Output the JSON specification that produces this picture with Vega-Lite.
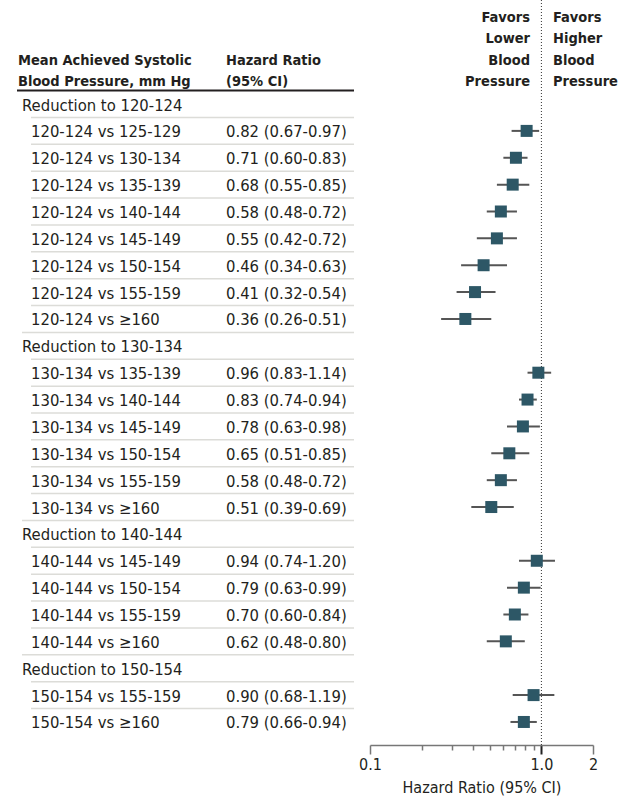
{
  "$schema": "https://vega.github.io/schema/vega-lite/v6.json",
  "width": 623,
  "height": 745,
  "autosize": "none",
  "padding": {"left": 0, "top": 0, "right": 0, "bottom": 58},
  "background": "white",
  "config": {
    "view": {"stroke": null},
    "font": "DejaVu Sans Condensed, sans-serif",
    "text": {"font": "DejaVu Sans Condensed, sans-serif", "fontSize": 16.5, "color": "#231f20", "baseline": "middle", "align": "left", "dy": 1.5},
    "axis": {"labelFont": "DejaVu Sans Condensed, sans-serif", "titleFont": "DejaVu Sans Condensed, sans-serif"}
  },
  "datasets": {
    "rows": [
      {"i": 0, "kind": "group", "label": "Reduction to 120-124"},
      {"i": 1, "kind": "item", "label": "120-124 vs 125-129", "hr": 0.82, "lo": 0.67, "hi": 0.97, "ci": "0.82 (0.67-0.97)"},
      {"i": 2, "kind": "item", "label": "120-124 vs 130-134", "hr": 0.71, "lo": 0.60, "hi": 0.83, "ci": "0.71 (0.60-0.83)"},
      {"i": 3, "kind": "item", "label": "120-124 vs 135-139", "hr": 0.68, "lo": 0.55, "hi": 0.85, "ci": "0.68 (0.55-0.85)"},
      {"i": 4, "kind": "item", "label": "120-124 vs 140-144", "hr": 0.58, "lo": 0.48, "hi": 0.72, "ci": "0.58 (0.48-0.72)"},
      {"i": 5, "kind": "item", "label": "120-124 vs 145-149", "hr": 0.55, "lo": 0.42, "hi": 0.72, "ci": "0.55 (0.42-0.72)"},
      {"i": 6, "kind": "item", "label": "120-124 vs 150-154", "hr": 0.46, "lo": 0.34, "hi": 0.63, "ci": "0.46 (0.34-0.63)"},
      {"i": 7, "kind": "item", "label": "120-124 vs 155-159", "hr": 0.41, "lo": 0.32, "hi": 0.54, "ci": "0.41 (0.32-0.54)"},
      {"i": 8, "kind": "item", "label": "120-124 vs ≥160", "hr": 0.36, "lo": 0.26, "hi": 0.51, "ci": "0.36 (0.26-0.51)"},
      {"i": 9, "kind": "group", "label": "Reduction to 130-134"},
      {"i": 10, "kind": "item", "label": "130-134 vs 135-139", "hr": 0.96, "lo": 0.83, "hi": 1.14, "ci": "0.96 (0.83-1.14)"},
      {"i": 11, "kind": "item", "label": "130-134 vs 140-144", "hr": 0.83, "lo": 0.74, "hi": 0.94, "ci": "0.83 (0.74-0.94)"},
      {"i": 12, "kind": "item", "label": "130-134 vs 145-149", "hr": 0.78, "lo": 0.63, "hi": 0.98, "ci": "0.78 (0.63-0.98)"},
      {"i": 13, "kind": "item", "label": "130-134 vs 150-154", "hr": 0.65, "lo": 0.51, "hi": 0.85, "ci": "0.65 (0.51-0.85)"},
      {"i": 14, "kind": "item", "label": "130-134 vs 155-159", "hr": 0.58, "lo": 0.48, "hi": 0.72, "ci": "0.58 (0.48-0.72)"},
      {"i": 15, "kind": "item", "label": "130-134 vs ≥160", "hr": 0.51, "lo": 0.39, "hi": 0.69, "ci": "0.51 (0.39-0.69)"},
      {"i": 16, "kind": "group", "label": "Reduction to 140-144"},
      {"i": 17, "kind": "item", "label": "140-144 vs 145-149", "hr": 0.94, "lo": 0.74, "hi": 1.20, "ci": "0.94 (0.74-1.20)"},
      {"i": 18, "kind": "item", "label": "140-144 vs 150-154", "hr": 0.79, "lo": 0.63, "hi": 0.99, "ci": "0.79 (0.63-0.99)"},
      {"i": 19, "kind": "item", "label": "140-144 vs 155-159", "hr": 0.70, "lo": 0.60, "hi": 0.84, "ci": "0.70 (0.60-0.84)"},
      {"i": 20, "kind": "item", "label": "140-144 vs ≥160", "hr": 0.62, "lo": 0.48, "hi": 0.80, "ci": "0.62 (0.48-0.80)"},
      {"i": 21, "kind": "group", "label": "Reduction to 150-154"},
      {"i": 22, "kind": "item", "label": "150-154 vs 155-159", "hr": 0.90, "lo": 0.68, "hi": 1.19, "ci": "0.90 (0.68-1.19)"},
      {"i": 23, "kind": "item", "label": "150-154 vs ≥160", "hr": 0.79, "lo": 0.66, "hi": 0.94, "ci": "0.79 (0.66-0.94)"}
    ],
    "head": [
      {"line": 3, "col": "label", "text": "Mean Achieved Systolic"},
      {"line": 4, "col": "label", "text": "Blood Pressure, mm Hg"},
      {"line": 3, "col": "hr", "text": "Hazard Ratio"},
      {"line": 4, "col": "hr", "text": "(95% CI)"}
    ],
    "favors": [
      {"line": 1, "side": "lower", "text": "Favors"},
      {"line": 2, "side": "lower", "text": "Lower"},
      {"line": 3, "side": "lower", "text": "Blood"},
      {"line": 4, "side": "lower", "text": "Pressure"},
      {"line": 1, "side": "higher", "text": "Favors"},
      {"line": 2, "side": "higher", "text": "Higher"},
      {"line": 3, "side": "higher", "text": "Blood"},
      {"line": 4, "side": "higher", "text": "Pressure"}
    ],
    "one": [{"ref": 1}]
  },
  "resolve": {"scale": {"x": "independent", "y": "independent"}, "axis": {"x": "independent", "y": "independent"}},
  "layer": [
    {
      "data": {"name": "rows"},
      "transform": [{"filter": "datum.kind == 'group'"}],
      "layer": [
        {
          "mark": {"type": "text"},
          "encoding": {
            "x": {"datum": "start", "type": "nominal", "axis": null, "scale": {"type": "point", "domain": ["start", "end"], "range": [22, 354], "padding": 0}},
            "y": {"field": "i", "type": "ordinal", "axis": null, "scale": {"type": "band", "domain": [0,1,2,3,4,5,6,7,8,9,10,11,12,13,14,15,16,17,18,19,20,21,22,23], "range": [90.6, 735.4], "paddingInner": 0, "paddingOuter": 0}},
            "text": {"field": "label"}
          }
        },
        {
          "transform": [{"filter": "datum.i > 0"}],
          "mark": {"type": "rule", "color": "#dcdcd8", "strokeWidth": 1.5},
          "encoding": {
            "x": {"datum": "start", "type": "nominal"},
            "x2": {"datum": "end"},
            "y": {"field": "i", "type": "ordinal", "bandPosition": 0}
          }
        }
      ]
    },
    {
      "data": {"name": "rows"},
      "transform": [{"filter": "datum.kind == 'item'"}],
      "layer": [
        {
          "mark": {"type": "text"},
          "encoding": {
            "x": {"datum": "start", "type": "nominal", "axis": null, "scale": {"type": "point", "domain": ["start", "end"], "range": [31, 354], "padding": 0}},
            "y": {"field": "i", "type": "ordinal", "axis": null, "scale": {"type": "band", "domain": [0,1,2,3,4,5,6,7,8,9,10,11,12,13,14,15,16,17,18,19,20,21,22,23], "range": [90.6, 735.4], "paddingInner": 0, "paddingOuter": 0}},
            "text": {"field": "label"}
          }
        },
        {
          "mark": {"type": "rule", "color": "#dcdcd8", "strokeWidth": 1.5},
          "encoding": {
            "x": {"datum": "start", "type": "nominal"},
            "x2": {"datum": "end"},
            "y": {"field": "i", "type": "ordinal", "bandPosition": 0}
          }
        }
      ]
    },
    {
      "data": {"name": "rows"},
      "transform": [{"filter": "datum.kind == 'item'"}],
      "mark": {"type": "text"},
      "encoding": {
        "x": {"datum": "hr", "type": "nominal", "axis": null, "scale": {"type": "point", "domain": ["hr", "end"], "range": [226, 354], "padding": 0}},
        "y": {"field": "i", "type": "ordinal", "axis": null, "scale": {"type": "band", "domain": [0,1,2,3,4,5,6,7,8,9,10,11,12,13,14,15,16,17,18,19,20,21,22,23], "range": [90.6, 735.4], "paddingInner": 0, "paddingOuter": 0}},
        "text": {"field": "ci"}
      }
    },
    {
      "data": {"name": "rows"},
      "transform": [{"filter": "datum.i == 0"}],
      "mark": {"type": "rule", "color": "#231f20", "strokeWidth": 2},
      "encoding": {
        "x": {"datum": "start", "type": "nominal", "axis": null, "scale": {"type": "point", "domain": ["start", "end"], "range": [17, 354], "padding": 0}},
        "x2": {"datum": "end"},
        "y": {"field": "i", "type": "ordinal", "axis": null, "bandPosition": 0, "scale": {"type": "band", "domain": [0,1,2,3,4,5,6,7,8,9,10,11,12,13,14,15,16,17,18,19,20,21,22,23], "range": [90.6, 735.4], "paddingInner": 0, "paddingOuter": 0}}
      }
    },
    {
      "data": {"name": "head"},
      "mark": {"type": "text", "fontWeight": "bold", "fontSize": 14.5},
      "encoding": {
        "x": {"field": "col", "type": "nominal", "axis": null, "scale": {"type": "point", "domain": ["label", "hr"], "range": [18, 226], "padding": 0}},
        "y": {"field": "line", "type": "ordinal", "axis": null, "scale": {"type": "band", "domain": [1, 2, 3, 4], "range": [5.8, 91.4], "paddingInner": 0, "paddingOuter": 0}},
        "text": {"field": "text"}
      }
    },
    {
      "data": {"name": "favors"},
      "layer": [
        {
          "transform": [{"filter": "datum.side == 'lower'"}],
          "mark": {"type": "text", "fontWeight": "bold", "fontSize": 14.5, "align": "right"},
          "encoding": {
            "x": {"field": "side", "type": "nominal", "axis": null, "scale": {"type": "point", "domain": ["lower", "higher"], "range": [530, 553], "padding": 0}},
            "y": {"field": "line", "type": "ordinal", "axis": null, "scale": {"type": "band", "domain": [1, 2, 3, 4], "range": [5.8, 91.4], "paddingInner": 0, "paddingOuter": 0}},
            "text": {"field": "text"}
          }
        },
        {
          "transform": [{"filter": "datum.side == 'higher'"}],
          "mark": {"type": "text", "fontWeight": "bold", "fontSize": 14.5, "align": "left"},
          "encoding": {
            "x": {"field": "side", "type": "nominal"},
            "y": {"field": "line", "type": "ordinal"},
            "text": {"field": "text"}
          }
        }
      ]
    },
    {
      "layer": [
        {
          "data": {"name": "one"},
          "mark": {"type": "rule", "color": "#333333", "strokeWidth": 1, "strokeDash": [1, 2]},
          "encoding": {
            "x": {"field": "ref", "type": "quantitative"}
          }
        },
        {
          "data": {"name": "rows"},
          "transform": [{"filter": "datum.kind == 'item'"}],
          "mark": {"type": "rule", "color": "#555555", "strokeWidth": 2},
          "encoding": {
            "x": {"field": "lo", "type": "quantitative"},
            "x2": {"field": "hi"},
            "y": {"field": "i", "type": "ordinal", "axis": null, "scale": {"type": "band", "domain": [0,1,2,3,4,5,6,7,8,9,10,11,12,13,14,15,16,17,18,19,20,21,22,23], "range": [90.6, 735.4], "paddingInner": 0, "paddingOuter": 0}}
          }
        },
        {
          "data": {"name": "rows"},
          "transform": [{"filter": "datum.kind == 'item'"}],
          "mark": {"type": "square", "size": 144, "color": "#2d5766", "opacity": 1},
          "encoding": {
            "x": {
              "field": "hr", "type": "quantitative",
              "scale": {"type": "log", "domain": [0.1, 2], "range": [370, 593], "nice": false, "zero": false},
              "axis": {
                "orient": "bottom",
                "title": "Hazard Ratio (95% CI)",
                "values": [0.1, 0.2, 0.3, 0.4, 0.5, 0.6, 0.7, 0.8, 0.9, 1, 2],
                "labelExpr": "datum.value == 0.1 ? '0.1' : datum.value == 1 ? '1.0' : datum.value == 2 ? '2' : ''",
                "grid": false,
                "domainColor": "#777777",
                "domainWidth": 1.5,
                "tickColor": {"condition": {"test": "datum.value == 1", "value": "#222222"}, "value": "#777777"},
                "tickWidth": {"condition": {"test": "datum.value == 1", "value": 2}, "value": 1.5},
                "tickSize": {"condition": {"test": "datum.value == 0.1 || datum.value == 1 || datum.value == 2", "value": 9}, "value": 5},
                "labelFontSize": 16,
                "labelColor": "#231f20",
                "labelPadding": 2,
                "labelFlush": false,
                "labelOverlap": false,
                "titleFontSize": 16,
                "titleFontWeight": "normal",
                "titleColor": "#231f20",
                "titlePadding": 7
              }
            },
            "y": {"field": "i", "type": "ordinal"}
          }
        }
      ]
    }
  ]
}
